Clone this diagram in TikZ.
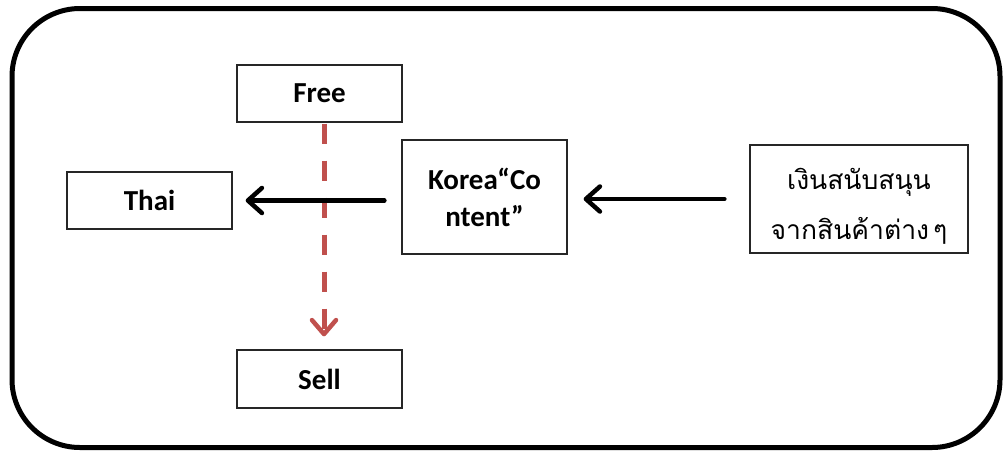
\documentclass[tikz,border=0pt]{standalone}
\usepackage{fontspec}
\setmainfont{Carlito}
\newfontfamily\thaifont[Script=Thai]{Loma}
\usetikzlibrary{arrows.meta}
\definecolor{flowred}{RGB}{192,80,77}
\begin{document}
\begin{tikzpicture}[x=1pt,y=-1pt,
  box/.style={draw=black!85, line width=1.3pt, fill=white, inner sep=0pt,
    align=center, font=\fontsize{29}{37}\selectfont\bfseries},
  thaitext/.style={inner sep=0pt, align=center, font=\thaifont\fontsize{26.5}{50}\selectfont},
  flow/.style={line width=4.5pt, line cap=round,
    -{Straight Barb[length=14pt,width=25pt,line width=4.5pt,round]}},
  redflow/.style={draw=flowred, line width=5pt, dash pattern=on 20pt off 17pt,
    -{Straight Barb[length=14pt,width=24pt,line width=4.5pt,round,color=flowred]}}]
\useasboundingbox (0,0) rectangle (1003,450);
% outer frame
\draw[line width=5pt, rounded corners=68pt] (12,8.5) rectangle (1000,447.5);
% boxes
\node[box, minimum width=165pt, minimum height=57pt] (free) at (319.5,93.5) {Free};
\node[box, minimum width=165pt, minimum height=57pt] (thai) at (149.5,200.5) {Thai};
\node[box, minimum width=165pt, minimum height=58pt] (sell) at (319.5,379) {Sell};
\node[box, minimum width=165pt, minimum height=114pt] (korea) at (484.5,197) {Korea“Co\\ntent”};
\node[box, minimum width=218pt, minimum height=108pt] (support) at (859,199) {};
\node[thaitext] (supporttext) at ([yshift=-7pt]support.center)
  {เงินสนับสนุน\\จากสินค้าต่าง\hspace{4pt}ๆ};
% connectors
\draw[redflow, shorten <=1pt, shorten >=13pt] ([xshift=4.5pt]free.south) -- ([xshift=4.5pt]sell.north);
\draw[flow, shorten <=17pt, shorten >=13pt] (korea.west |- thai.east) -- (thai.east);
\draw[flow, shorten <=25pt, shorten >=16pt] (support.west) -- (korea.east |- support.west);
\end{tikzpicture}
\end{document}
